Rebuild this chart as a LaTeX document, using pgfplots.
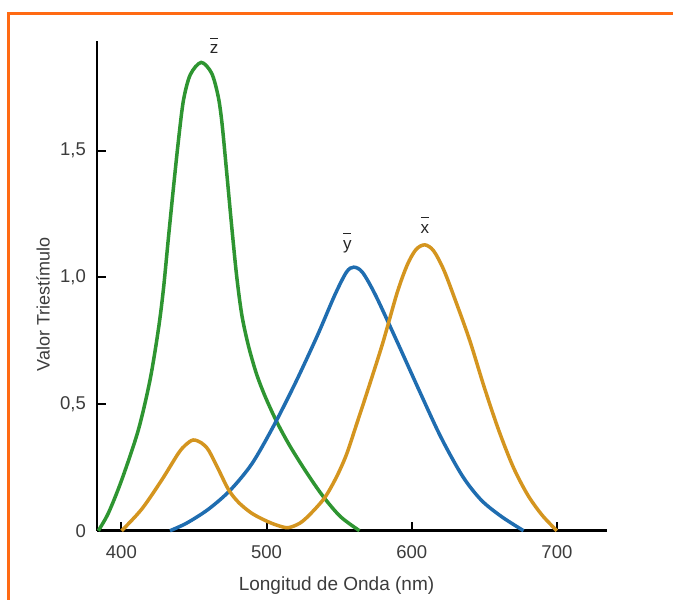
\documentclass[border=0pt]{standalone}
\usepackage{fontspec}
\setmainfont{Liberation Sans}
\usepackage{pgfplots}
\pgfplotsset{compat=1.18}
\definecolor{frameor}{HTML}{FF6A13}
\definecolor{zgreen}{HTML}{2E9531}
\definecolor{yblue}{HTML}{1F6DB0}
\definecolor{xorange}{HTML}{D4951F}
\definecolor{txt}{HTML}{3C3C3C}
\newcommand{\ob}[1]{\rule{8pt}{1.3pt}\\[-3pt]#1}
\begin{document}
\begin{tikzpicture}[x=1pt,y=1pt]
\path[use as bounding box] (0,0) rectangle (673,600);
\fill[white] (0,0) rectangle (673,600);
\draw[frameor, line width=3pt] (8,-5) -- (8,586) -- (680,586);
\begin{axis}[
  at={(97pt,69.3pt)}, anchor=south west,
  scale only axis, width=510pt, height=489.7pt,
  xmin=383.2, xmax=734.5, ymin=0, ymax=1.9325,
  axis x line*=bottom, axis y line*=left,
  axis line style={line width=2.5pt, black},
  clip=false,
  /pgf/number format/assume math mode=true,
  xtick={400,500,600,700},
  ytick={0,0.5,1,1.5},
  yticklabels={0,{0,5},{1,0},{1,5}},
  tick align=inside,
  x tick style={line width=2pt, black},
  y tick style={line width=2pt, black},
  major tick length=9pt,
  ticklabel style={font=\fontsize{18.5}{20}\selectfont, text=txt},
  xticklabel style={inner sep=0pt, yshift=-15pt},
  yticklabel style={inner sep=0pt, xshift=-11pt},
  xlabel={Longitud de Onda (nm)},
  ylabel={Valor Triestímulo},
  xlabel style={font=\fontsize{19}{21}\selectfont, text=txt, at={(axis description cs:0.4696,-0.113)}, anchor=center},
  ylabel style={font=\fontsize{18}{20}\selectfont, text=txt, at={(axis description cs:-0.1059,0.4626)}, anchor=center},
]
% z bar (green)
\addplot[zgreen, line width=3.5pt, smooth] coordinates {
(384.1,0.0) (391,0.069) (400.2,0.2) (411.6,0.396) (419.7,0.594) (425.4,0.791)
(428.9,0.95) (432.3,1.15) (435.8,1.35) (439.3,1.54) (442.8,1.70) (447.5,1.80)
(455,1.848) (462.2,1.805) (466.7,1.713) (469.3,1.608) (472.6,1.41) (476,1.20)
(479.5,1.0) (483,0.85) (487.5,0.73) (493,0.62) (499,0.53) (507,0.43) (516,0.335)
(527.5,0.23) (539,0.135) (551,0.055) (564,0)
};
% y bar (blue)
\addplot[yblue, line width=3.5pt, smooth] coordinates {
(433.5,0) (445,0.03) (460,0.085) (475,0.16) (490,0.265) (505,0.415) (520,0.585)
(535,0.77) (547,0.93) (555,1.02) (560,1.04) (566,1.02) (575,0.93) (590,0.745)
(605,0.555) (620,0.37) (635,0.215) (648,0.12) (662,0.055) (677,0)
};
% x bar (orange)
\addplot[xorange, line width=3.5pt, smooth] coordinates {
(400.2,0) (414,0.085) (427.8,0.2) (439.2,0.305) (444.5,0.34) (449.5,0.358)
(455,0.347) (460,0.318) (467,0.24) (474,0.16) (481,0.11) (490,0.068) (500,0.038)
(508,0.02) (515,0.012) (523,0.03) (530,0.065) (540,0.13) (548,0.21) (555,0.3)
(562,0.42) (569,0.542) (580,0.74) (590,0.94) (597,1.05) (603,1.11) (609,1.128)
(615,1.105) (622,1.03) (630,0.91) (640,0.75) (650,0.565) (660,0.395) (670,0.25)
(680,0.14) (690,0.06) (700,0)
};
\node[font=\fontsize{17}{18}\selectfont, text=black!85, align=center, inner sep=0pt] at (axis cs:463.9,1.914) {\ob{z}};
\node[font=\fontsize{17}{18}\selectfont, text=black!85, align=center, inner sep=0pt] at (axis cs:555.7,1.135) {\ob{y}};
\node[font=\fontsize{17}{18}\selectfont, text=black!85, align=center, inner sep=0pt] at (axis cs:609.1,1.206) {\ob{x}};
\end{axis}
\end{tikzpicture}
\end{document}
